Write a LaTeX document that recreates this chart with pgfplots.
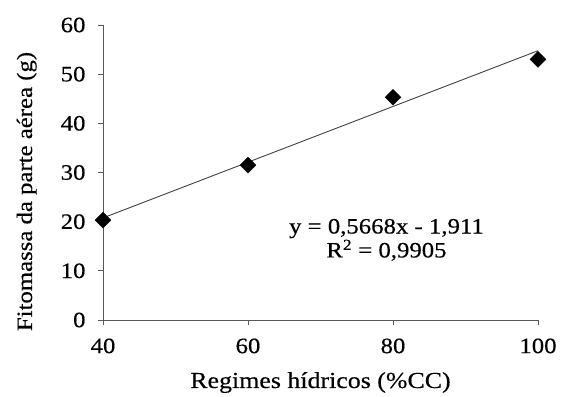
\documentclass[border=0pt]{standalone}
\usepackage{pgfplots}
\pgfplotsset{compat=1.18}
\usepackage{fontspec}
\setmainfont{Liberation Serif}[FakeStretch=1.13, FakeBold=0.4]
\begin{document}
\begin{tikzpicture}
\begin{axis}[
  scale only axis,
  width=435bp, height=295bp,
  xmin=40, xmax=100, ymin=0, ymax=60,
  xtick={40,60,80,100}, ytick={0,10,...,60},
  axis x line*=bottom, axis y line*=left,
  axis line style={gray!70!black, line width=0.7pt},
  tick style={gray!70!black, line width=0.7pt},
  tick align=outside,
  major tick length=5bp,
  /pgf/number format/assume math mode=true,
  ticklabel style={font=\fontsize{22}{24}\selectfont},
  yticklabel style={xshift=-9bp},
  xticklabel style={yshift=-10bp},
  xlabel={Regimes hídricos (\%CC)},
  ylabel={Fitomassa da parte aérea (g)},
  xlabel style={font=\fontsize{23}{24}\selectfont, at={(axis description cs:0.5,0)}, anchor=base, yshift=-68bp},
  ylabel style={font=\fontsize{22}{24}\selectfont, at={(axis description cs:0,0.5)}, anchor=base, yshift=71bp, xshift=-19bp},
  clip=false,
]
\addplot[no marks, gray!50!black, line width=0.9pt] coordinates {(40,20.76) (100,54.77)};
\addplot[only marks, mark=square*, mark options={rotate=45}, mark size=5.6bp, black] coordinates {(40,20.3) (60,31.5) (80,45.3) (100,53.0)};
\node[font=\fontsize{22}{24}\selectfont, align=center, anchor=center] at (axis cs:79.1,16.3) {y = 0,5668x - 1,911\\R\textsuperscript{2} = 0,9905};
\end{axis}
\pgfresetboundingbox
\useasboundingbox ([xshift=-103bp,yshift=-77bp]current axis.south west) rectangle ([xshift=23bp,yshift=25bp]current axis.north east);
\end{tikzpicture}
\end{document}
